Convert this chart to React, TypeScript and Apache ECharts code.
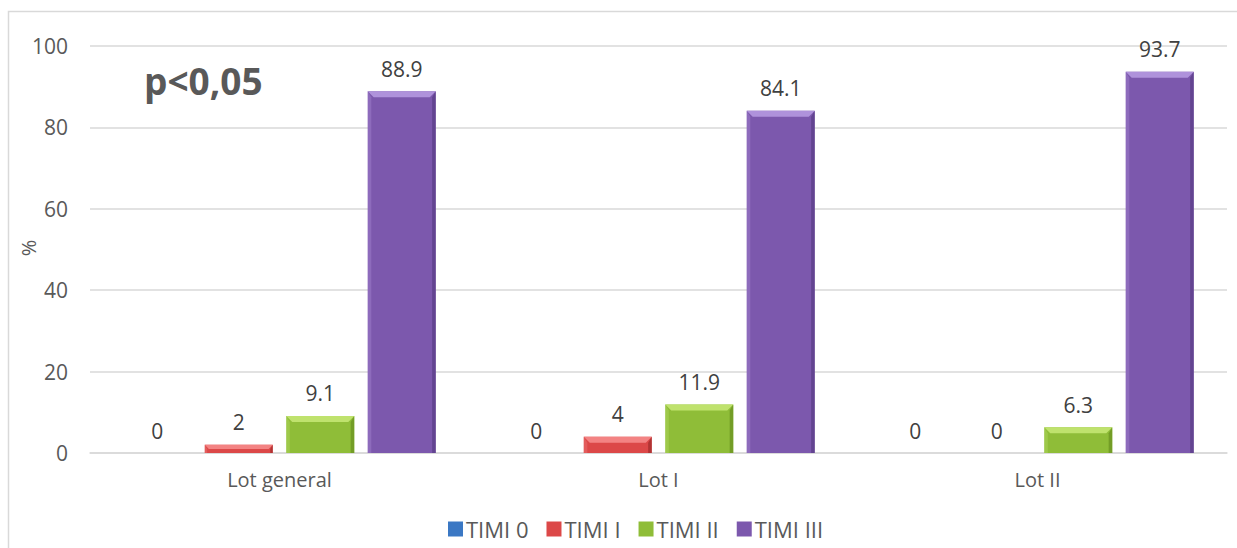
import React, { useEffect, useRef } from "react";
import * as echarts from "echarts";

const categories = ["Lot general", "Lot I", "Lot II"];
const seriesNames = ["TIMI 0", "TIMI I", "TIMI II", "TIMI III"];
const timi0 = [0, 0, 0];
const timi1 = [2, 4, 0];
const timi2 = [9.1, 11.9, 6.3];
const timi3 = [88.9, 84.1, 93.7];
const yTicks = { min: 0, max: 100, interval: 20 };
const yAxisName = "%";
const annotation = "p<0,05";

const palettes = [
  { main: "#3b78c4", light: "#86b6ec", dark: "#27548f" },
  { main: "#dc4848", light: "#f58a8a", dark: "#9e2b2b" },
  { main: "#8fbd38", light: "#c4e673", dark: "#66901f" },
  { main: "#7c58ad", light: "#b599e0", dark: "#583c84" },
];

const FONT = '"Open Sans", "DejaVu Sans", sans-serif';

function makeSeries(idx: number, values: number[]) {
  const pal = palettes[idx];
  return {
    type: "custom",
    name: seriesNames[idx],
    itemStyle: { color: pal.main },
    encode: { x: 0, y: 1 },
    data: values.map((v, i) => [i, v]),
    renderItem: (params: any, api: any) => {
      const cat = api.value(0);
      const val = api.value(1);
      const base = api.coord([cat, 0]);
      const top = api.coord([cat, val]);
      const band = api.size([1, 0])[0];
      const step = band * 0.215;
      const bw = band * 0.1795;
      const cx = base[0] + (idx - 1.5) * step;
      const x0 = cx - bw / 2;
      const x1 = cx + bw / 2;
      const y0 = top[1];
      const y1 = base[1];
      const h = y1 - y0;
      const children: any[] = [];
      if (h > 0.5) {
        const b = Math.min(6, h / 2);
        children.push({
          type: "rect",
          shape: { x: x0, y: y0, width: bw, height: h },
          style: { fill: pal.main },
        });
        children.push({
          type: "polygon",
          shape: { points: [[x0, y0], [x1, y0], [x1 - b, y0 + b], [x0 + b, y0 + b]] },
          style: { fill: pal.light, opacity: 0.9 },
        });
        children.push({
          type: "polygon",
          shape: { points: [[x1, y0], [x1, y1], [x1 - b * 0.6, y1], [x1 - b * 0.6, y0 + b]] },
          style: { fill: pal.dark, opacity: 0.7 },
        });
        children.push({
          type: "polygon",
          shape: { points: [[x0, y0], [x0 + b * 0.6, y0 + b], [x0 + b * 0.6, y1], [x0, y1]] },
          style: { fill: pal.light, opacity: 0.3 },
        });
      }
      children.push({
        type: "text",
        x: cx,
        y: y0 - 12,
        style: {
          text: String(val),
          align: "center",
          verticalAlign: "bottom",
          fill: "#404040",
          font: `21px ${FONT}`,
        },
      });
      return { type: "group", children };
    },
  };
}

export default function App() {
  const ref = useRef<HTMLDivElement>(null);
  useEffect(() => {
    if (!ref.current) return;
    const chart = echarts.init(ref.current, undefined, { renderer: "svg" });
    chart.setOption({
      animation: false,
      backgroundColor: "#ffffff",
      textStyle: { fontFamily: FONT },
      grid: { left: 90, right: 10, top: 46, bottom: 95 },
      legend: {
        left: 443,
        top: 513,
        icon: "rect",
        itemWidth: 15,
        itemHeight: 15,
        itemGap: 18,
        data: seriesNames,
        textStyle: { fontSize: 22, color: "#595959", fontFamily: FONT, padding: [0, 0, 0, -2] },
      },
      xAxis: {
        type: "category",
        data: categories,
        axisTick: { show: false },
        axisLine: { lineStyle: { color: "#d9d9d9", width: 1.5 } },
        axisLabel: { fontSize: 20, color: "#595959", margin: 16, fontFamily: FONT },
      },
      yAxis: {
        type: "value",
        min: yTicks.min,
        max: yTicks.max,
        interval: yTicks.interval,
        axisLine: { show: false },
        axisTick: { show: false },
        splitLine: { lineStyle: { color: "#d9d9d9", width: 1.5 } },
        axisLabel: { fontSize: 21, color: "#595959", margin: 22, fontFamily: FONT },
      },
      graphic: [
        {
          type: "rect",
          shape: { x: 8.5, y: 11.5, width: 1300, height: 700 },
          style: { fill: "none", stroke: "#d9d9d9", lineWidth: 1.5 },
          silent: true,
          z: -10,
        },
        {
          type: "text",
          x: 28,
          y: 248,
          rotation: Math.PI / 2,
          style: {
            text: yAxisName,
            font: `20px ${FONT}`,
            fill: "#595959",
            align: "center",
            verticalAlign: "middle",
          },
        },
        {
          type: "text",
          x: 144,
          y: 80,
          style: {
            text: annotation,
            font: `bold 37px ${FONT}`,
            fill: "#595959",
            verticalAlign: "middle",
          },
        },
      ],
      series: [
        makeSeries(0, timi0),
        makeSeries(1, timi1),
        makeSeries(2, timi2),
        makeSeries(3, timi3),
      ],
    });
    return () => chart.dispose();
  }, []);
  return (
    <div
      ref={ref}
      style={{ position: "fixed", left: 0, top: 0, width: 1237, height: 548, background: "#fff" }}
    />
  );
}
